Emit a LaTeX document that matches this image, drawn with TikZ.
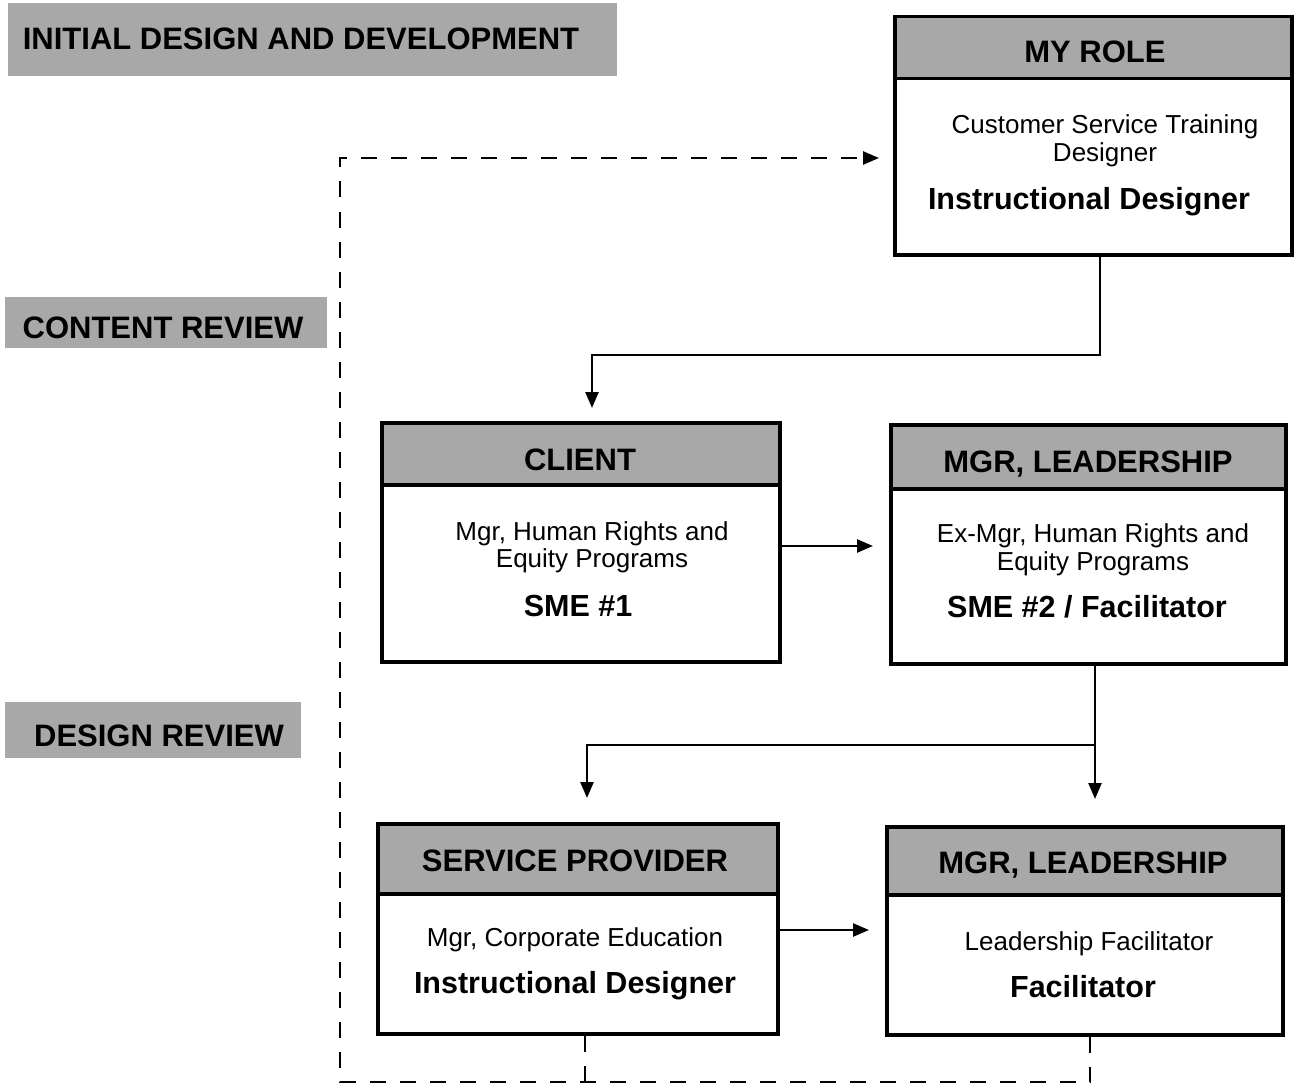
\documentclass[tikz,border=0pt]{standalone}
\usepackage{fontspec}
\setmainfont{Liberation Sans}
\usetikzlibrary{arrows.meta}
\definecolor{hdrgray}{gray}{0.66}
\newcommand\hdrfont{\fontsize{31}{33}\selectfont\bfseries}
\newcommand\regfont{\fontsize{26}{28}\selectfont}
\newcommand\bldfont{\fontsize{30.5}{32}\selectfont\bfseries}
\begin{document}
\begin{tikzpicture}[x=1pt,y=-1pt,
  band/.style={fill=hdrgray, inner sep=0pt, anchor=north west},
  box/.style={draw, line width=3.5pt, inner sep=0pt, anchor=north west},
  hdr/.style={draw, line width=3.5pt, fill=hdrgray, inner sep=0pt, anchor=north west},
  htxt/.style={inner sep=0pt, anchor=base, font=\hdrfont},
  reg/.style={inner sep=0pt, anchor=base, font=\regfont},
  bld/.style={inner sep=0pt, anchor=base, font=\bldfont},
  arr/.style={line width=2.5pt, -{Triangle[length=16pt,width=13pt]}},
  dsh/.style={line width=2.5pt, dash pattern=on 16pt off 14pt},
]
\useasboundingbox (0,0) rectangle (1300,1086);

% stage bands
\node[band, minimum width=609, minimum height=73] (b1) at (8,3) {};
\node[htxt] (b1t) at (301,50) {INITIAL DESIGN AND DEVELOPMENT};
\node[band, minimum width=322, minimum height=51] (b2) at (5,297) {};
\node[htxt] (b2t) at (163,338) {CONTENT REVIEW};
\node[band, minimum width=296, minimum height=56] (b3) at (5,702) {};
\node[htxt] (b3t) at (159,746) {DESIGN REVIEW};

% MY ROLE
\node[box, minimum width=397, minimum height=238] (role) at (893,15) {};
\node[hdr, minimum width=397, minimum height=62] (roleh) at (role.north west) {};
\node[htxt] (roleht) at (1095,63) {MY ROLE};
\node[reg] (role1) at (1105,134) {Customer Service Training};
\node[reg] (role2) at (1105,162) {Designer};
\node[bld] (role3) at (1089,209) {Instructional Designer};

% CLIENT
\node[box, minimum width=398, minimum height=239] (client) at (380,421) {};
\node[hdr, minimum width=398, minimum height=62] (clienth) at (client.north west) {};
\node[htxt] (clientht) at (580,470) {CLIENT};
\node[reg] (client1) at (592,540) {Mgr, Human Rights and};
\node[reg] (client2) at (592,567) {Equity Programs};
\node[bld] (client3) at (578,616) {SME \#1};

% MGR, LEADERSHIP (1)
\node[box, minimum width=395, minimum height=239] (mgra) at (889,423) {};
\node[hdr, minimum width=395, minimum height=64] (mgrah) at (mgra.north west) {};
\node[htxt] (mgraht) at (1088,472) {MGR, LEADERSHIP};
\node[reg] (mgra1) at (1093,542) {Ex-Mgr, Human Rights and};
\node[reg] (mgra2) at (1093,570) {Equity Programs};
\node[bld] (mgra3) at (1087,617) {SME \#2 / Facilitator};

% SERVICE PROVIDER
\node[box, minimum width=400, minimum height=210] (sp) at (376,822) {};
\node[hdr, minimum width=400, minimum height=70] (sph) at (sp.north west) {};
\node[htxt] (spht) at (575,871) {SERVICE PROVIDER};
\node[reg] (sp1) at (575,946) {Mgr, Corporate Education};
\node[bld] (sp2) at (575,993) {Instructional Designer};

% MGR, LEADERSHIP (2)
\node[box, minimum width=396, minimum height=208] (mgrb) at (885,825) {};
\node[hdr, minimum width=396, minimum height=68] (mgrbh) at (mgrb.north west) {};
\node[htxt] (mgrbht) at (1083,873) {MGR, LEADERSHIP};
\node[reg] (mgrb1) at (1089,950) {Leadership Facilitator};
\node[bld] (mgrb2) at (1083,997) {Facilitator};

% connector points
\coordinate (j1) at (1100,355);
\coordinate (j2) at (592,355);
\coordinate (t1) at (592,408);
\coordinate (t2) at (873,546);
\coordinate (j3) at (1095,745);
\coordinate (t3) at (1095,799);
\coordinate (j4) at (587,745);
\coordinate (t4) at (587,798);
\coordinate (t5) at (869,930);
\coordinate (d1) at (585,1082);
\coordinate (d2) at (1090,1082);
\coordinate (d3) at (340,1082);
\coordinate (d4) at (340,158);
\coordinate (t6) at (879,158);

% connectors
\draw[arr] (role.south -| j1) -- (j1) -- (j2) -- (t1);
\draw[arr] (client.east |- t2) -- (t2);
\draw[arr] (mgra.south -| j3) -- (t3);
\draw[arr] (j3) -- (j4) -- (t4);
\draw[arr] (sp.east |- t5) -- (t5);
\draw[dsh] (sp.south -| d1) -- (d1);
\draw[dsh, -{Triangle[length=16pt,width=13pt]}] (mgrb.south -| d2) -- (d2) -- (d3) -- (d4) -- (t6);
\end{tikzpicture}
\end{document}
